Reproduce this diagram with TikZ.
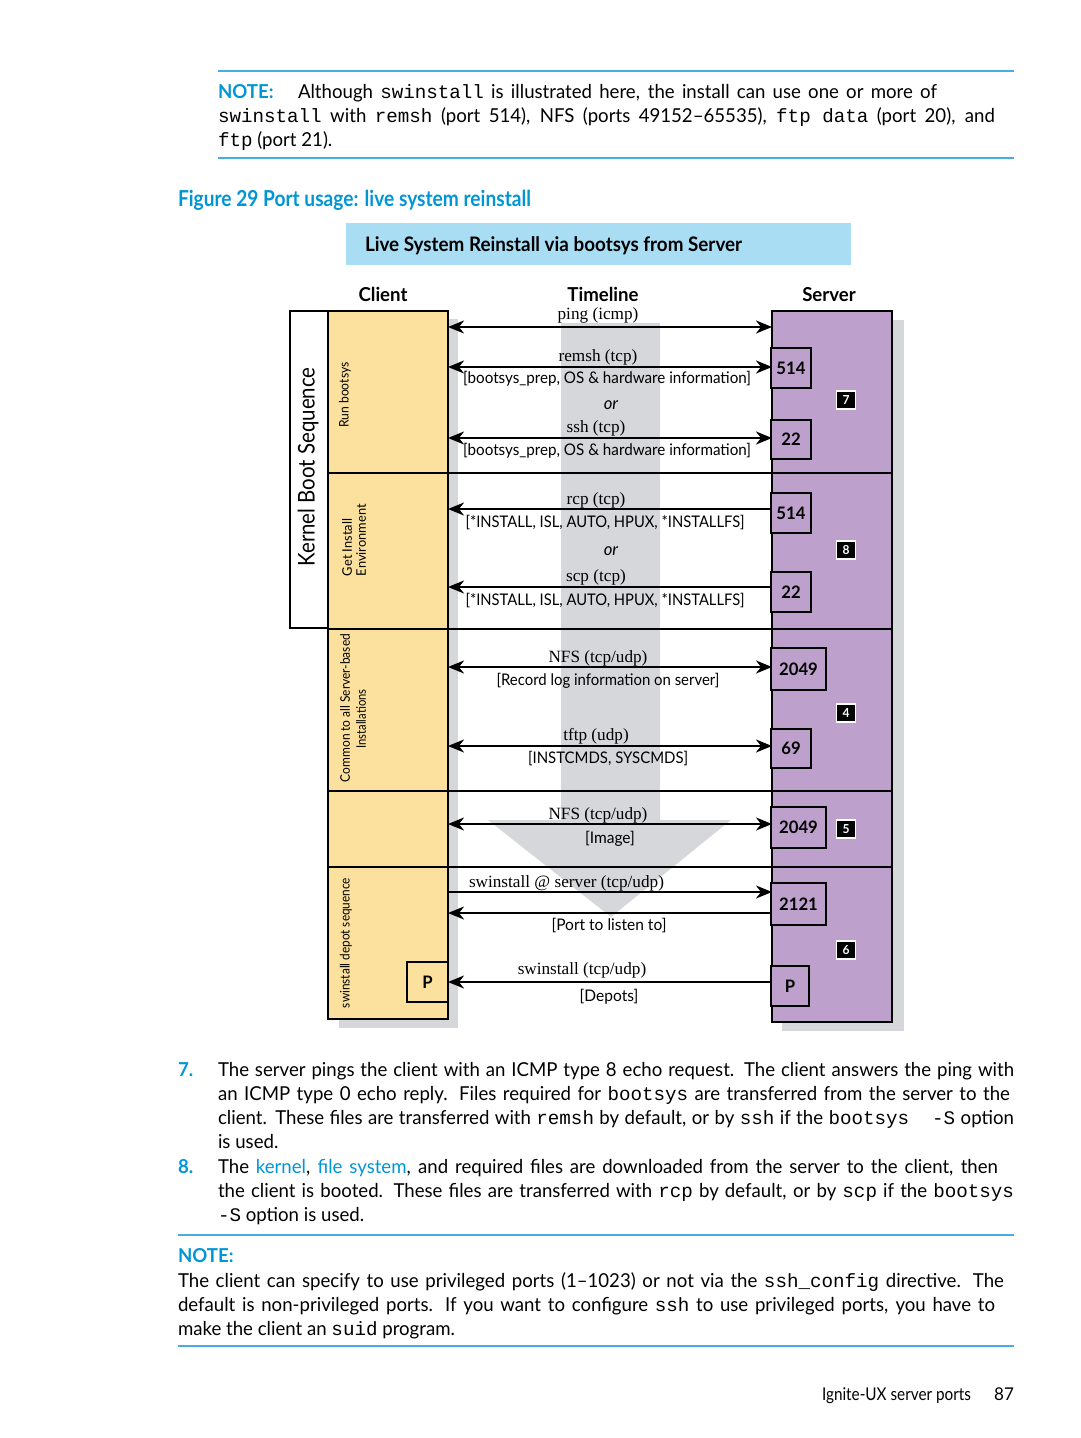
\documentclass[tikz,border=0pt]{standalone}
\usepackage{fontspec}
\setmainfont{Lato}[FakeStretch=0.97]
\setmonofont{Liberation Mono}
\newfontfamily\tlfont{Liberation Serif}
\usetikzlibrary{arrows.meta}

\definecolor{hpblue}{RGB}{0,150,214}
\definecolor{ruleblue}{RGB}{70,172,226}
\definecolor{clientfill}{RGB}{252,225,158}
\definecolor{serverfill}{RGB}{190,160,205}
\definecolor{bandgray}{RGB}{214,215,218}
\definecolor{titlefill}{RGB}{168,221,243}

\newsavebox\fitbox
\newcommand\fitto[2]{%
  \sbox\fitbox{#2}%
  \ifdim\wd\fitbox>#1\relax
    \pgfmathsetmacro\fitratio{#1/\the\wd\fitbox}%
    \scalebox{\fitratio}[1]{\usebox\fitbox}%
  \else
    \makebox[#1][s]{#2}%
  \fi}

\tikzset{
  both/.style={line width=1.1pt,{Stealth[length=8pt,width=6.5pt,inset=2.5pt]}-{Stealth[length=8pt,width=6.5pt,inset=2.5pt]}},
  toclient/.style={line width=1.1pt,{Stealth[length=8pt,width=6.5pt,inset=2.5pt]}-},
  toserver/.style={line width=1.1pt,-{Stealth[length=8pt,width=6.5pt,inset=2.5pt]}}
}

\begin{document}
\begin{tikzpicture}[x=0.5pt,y=-0.5pt,
  every node/.style={inner sep=0pt,outer sep=0pt},
  body/.style={anchor=base west,font=\fontsize{9.6}{11.5}\selectfont},
  bluehead/.style={anchor=base west,text=hpblue,font=\bfseries\fontsize{9.6}{11.5}\selectfont},
  rule/.style={ruleblue,line width=0.9pt},
  head/.style={anchor=base,font=\bfseries\fontsize{9.6}{11.5}\selectfont},
  tlabel/.style={anchor=base,font=\tlfont\fontsize{8.6}{10}\selectfont},
  blabel/.style={anchor=base,font=\fontsize{8}{9}\selectfont},
  vlabel/.style={rotate=90,anchor=center,font=\fontsize{6.6}{7}\selectfont},
  section/.style={line width=1.4pt},
  divider/.style={line width=1.1pt},
  portbox/.style={draw,line width=1.1pt,fill=serverfill,font=\bfseries\fontsize{8.6}{10}\selectfont},
  badge/.style={fill=black,draw=white,line width=0.8pt,text=white,minimum width=9.5pt,minimum height=9pt,font=\bfseries\fontsize{6.2}{7}\selectfont}
]
\useasboundingbox (0,0) rectangle (1080,1438);

\draw[rule] (218,71) -- (1014,71);
\node[bluehead] (notea) at (218,99) {NOTE:};
\node[body] (notea1) at (298,99) {\fitto{319.5pt}{Although \texttt{swinstall} is illustrated here, the install can use one or more of}};
\node[body] (notea2) at (218,123) {\fitto{388.5pt}{\texttt{swinstall} with \texttt{remsh} (port 514), NFS (ports 49152–65535), \texttt{ftp data} (port 20), and}};
\node[body] (notea3) at (218,147) {\texttt{ftp} (port 21).};
\draw[rule] (218,158) -- (1014,158);

\node[bluehead,font=\bfseries\fontsize{11}{13}\selectfont] (caption) at (178,207) {\fitto{176.5pt}{Figure 29 Port usage: live system reinstall}};

\fill[titlefill] (346,223) rectangle (851,265);
\node[anchor=base west,font=\bfseries\fontsize{10}{12}\selectfont] (title) at (365,252) {\fitto{188.5pt}{Live System Reinstall via bootsys from Server}};

\node[head] (client) at (383,302) {Client};
\node[head] (timeline) at (603,302) {Timeline};
\node[head] (server) at (829,302) {Server};

\fill[bandgray] (448,319) rectangle (458,1028);
\fill[bandgray] (339,1019) rectangle (458,1028);
\fill[bandgray] (892,320) rectangle (904,1031);
\fill[bandgray] (782,1022) rectangle (904,1031);
\fill[bandgray] (561,323) -- (660,323) -- (660,820) -- (731,820) -- (611,917) -- (488,820) -- (561,820) -- cycle;

\draw[section,fill=white] (290,311) rectangle (328,628);
\foreach \top/\bot in {311/473,473/629,629/791,791/867,867/1019}
  \draw[section,fill=clientfill] (328,\top) rectangle (448,\bot);
\foreach \top/\bot in {311/473,473/629,629/791,791/867,867/1022}
  \draw[section,fill=serverfill] (772,\top) rectangle (892,\bot);
\foreach \y in {473,629,791,867}
  \draw[divider] (448,\y) -- (772,\y);

\node[rotate=90,anchor=center,font=\fontsize{11.5}{13}\selectfont] (kernel) at (308,467) {\fitto{99.5pt}{Kernel Boot Sequence}};
\node[vlabel] (runboot) at (345,395) {\fitto{32.5pt}{Run bootsys}};
\node[vlabel,anchor=west] (getinst) at (347,576) {Get Install};
\node[vlabel,anchor=west] (environ) at (361,576) {Environment};
\node[vlabel] (common) at (345,708) {\fitto{74pt}{Common to all Server-based}};
\node[vlabel] (installs) at (361,719) {\fitto{29.5pt}{Installations}};
\node[vlabel] (depotseq) at (346,943) {\fitto{65pt}{swinstall depot sequence}};

\foreach \n/\x/\y/\w/\h/\t in {p514a/771/348/40/40/514, p22a/771/420/40/39/22, p514b/771/493/40/40/514,
    p22b/771/572/40/40/22, p2049a/771/648/55/42/2049, p69/771/729/40/39/69, p2049b/771/807/55/41/2049,
    p2121/771/883/55/42/2121, pserver/771/966/38/40/P}
  \node[portbox,anchor=north west,minimum width={\w*0.5pt},minimum height={\h*0.5pt}] (\n) at (\x,\y) {\t};
\node[portbox,fill=clientfill,anchor=north west,minimum width=20.5pt,minimum height=20pt] (pclient) at (407,962) {P};

\foreach \n/\y in {7/400,8/550,4/713,5/829,6/950}
  \node[badge] (b\n) at (846,\y) {\n};

\foreach \n/\y in {ping/327,remsh/367,ssh/438,rcp/509,scp/587,nfsa/667,tftp/746,nfsb/824,swa/892,swb/913,swc/982}{
  \coordinate (c-\n) at (448,\y);
  \coordinate (s-\n) at (772,\y);
}
\draw[both] (c-ping) -- (s-ping);
\draw[both] (c-remsh) -- (s-remsh);
\draw[both] (c-ssh) -- (s-ssh);
\draw[toclient] (c-rcp) -- (s-rcp);
\draw[toclient] (c-scp) -- (s-scp);
\draw[both] (c-nfsa) -- (s-nfsa);
\draw[both] (c-tftp) -- (s-tftp);
\draw[both] (c-nfsb) -- (s-nfsb);
\draw[toserver] (c-swa) -- (s-swa);
\draw[toclient] (c-swb) -- (s-swb);
\draw[toclient] (c-swc) -- (s-swc);

\node[tlabel] (lping) at (598,320) {ping (icmp)};
\node[tlabel] (lremsh) at (598,362) {remsh (tcp)};
\node[blabel] (lboot1) at (607,384) {\fitto{144pt}{[bootsys\_prep, OS \& hardware information]}};
\node[blabel,font=\itshape\fontsize{8.6}{10}\selectfont] (lor1) at (611,410) {or};
\node[tlabel] (lssh) at (596,432) {ssh (tcp)};
\node[blabel] (lboot2) at (607,455) {\fitto{144pt}{[bootsys\_prep, OS \& hardware information]}};
\node[tlabel] (lrcp) at (596,504) {rcp (tcp)};
\node[blabel] (linst1) at (605,527) {\fitto{139.5pt}{[*INSTALL, ISL, AUTO, HPUX, *INSTALLFS]}};
\node[blabel,font=\itshape\fontsize{8.6}{10}\selectfont] (lor2) at (611,555) {or};
\node[tlabel] (lscp) at (596,581) {scp (tcp)};
\node[blabel] (linst2) at (605,605) {\fitto{139.5pt}{[*INSTALL, ISL, AUTO, HPUX, *INSTALLFS]}};
\node[tlabel] (lnfsa) at (598,662) {NFS (tcp/udp)};
\node[blabel] (lrecord) at (608,685) {\fitto{111.5pt}{[Record log information on server]}};
\node[tlabel] (ltftp) at (596,740) {tftp (udp)};
\node[blabel] (lcmds) at (608,763) {\fitto{80pt}{[INSTCMDS, SYSCMDS]}};
\node[tlabel] (lnfsb) at (598,819) {NFS (tcp/udp)};
\node[blabel] (limage) at (610,843) {[Image]};
\node[tlabel,anchor=base west] (lswa) at (469,887) {swinstall @ server (tcp/udp)};
\node[blabel] (lport) at (609,930) {[Port to listen to]};
\node[tlabel] (lswc) at (582,974) {swinstall (tcp/udp)};
\node[blabel] (ldepots) at (609,1001) {[Depots]};

\node[bluehead] (num7) at (178,1076) {7.};
\node[body] (i7a) at (218,1076) {\fitto{398pt}{The server pings the client with an ICMP type 8 echo request. The client answers the ping with}};
\node[body] (i7b) at (218,1100) {\fitto{396pt}{an ICMP type 0 echo reply. Files required for \texttt{bootsys} are transferred from the server to the}};
\node[body] (i7c) at (218,1124) {\fitto{398pt}{client. These files are transferred with \texttt{remsh} by default, or by \texttt{ssh} if the \texttt{bootsys\ \ -S} option}};
\node[body] (i7d) at (218,1148) {is used.};
\node[bluehead] (num8) at (178,1173) {8.};
\node[body] (i8a) at (218,1173) {\fitto{390pt}{The {\color{hpblue}kernel}, {\color{hpblue}file system}, and required files are downloaded from the server to the client, then}};
\node[body] (i8b) at (218,1197) {\fitto{398pt}{the client is booted. These files are transferred with \texttt{rcp} by default, or by \texttt{scp} if the \texttt{bootsys}}};
\node[body] (i8c) at (218,1221) {\texttt{-S} option is used.};
\draw[rule] (178,1235) -- (1014,1235);

\node[bluehead] (noteb) at (178,1262) {NOTE:};
\node[body] (noteb1) at (178,1287) {\fitto{413pt}{The client can specify to use privileged ports (1–1023) or not via the \texttt{ssh\_config} directive. The}};
\node[body] (noteb2) at (178,1311) {\fitto{408.5pt}{default is non-privileged ports. If you want to configure \texttt{ssh} to use privileged ports, you have to}};
\node[body] (noteb3) at (178,1335) {make the client an \texttt{suid} program.};
\draw[rule] (178,1346) -- (1014,1346);

\node[anchor=base east,font=\fontsize{8.8}{10}\selectfont] (footer) at (971,1400) {\fitto{74.5pt}{Ignite-UX server ports}};
\node[anchor=base east,font=\fontsize{8.8}{10}\selectfont] (pageno) at (1014,1400) {87};
\end{tikzpicture}
\end{document}
